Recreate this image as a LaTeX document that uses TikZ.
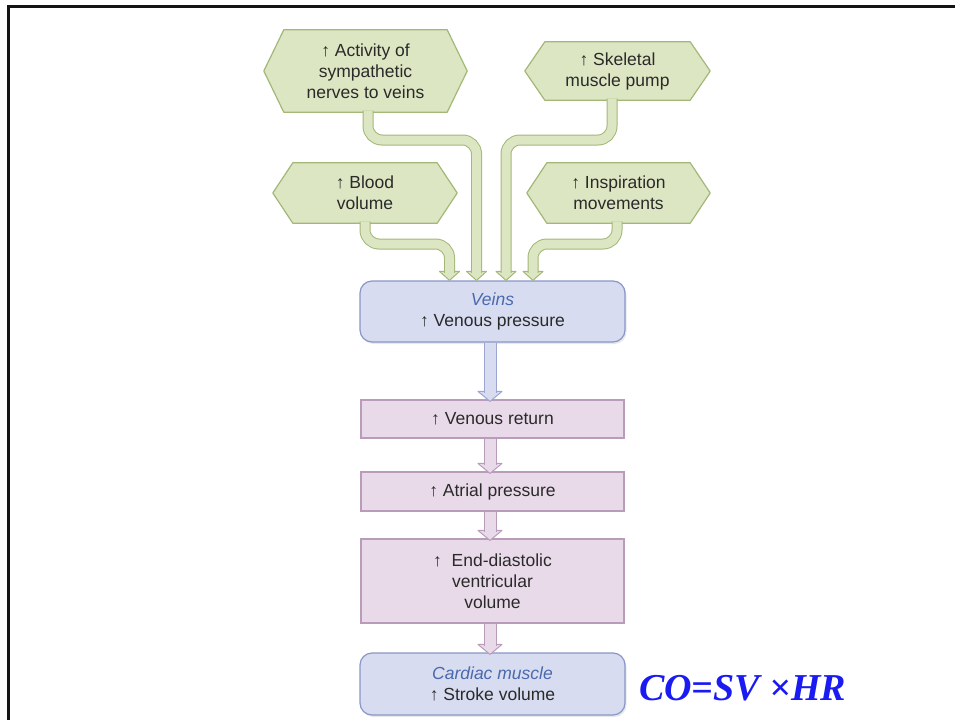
\documentclass[tikz,border=0pt]{standalone}
\usepackage{fontspec}
\setmainfont{Liberation Sans}
\newfontfamily\formulafont{Liberation Serif}
\usetikzlibrary{backgrounds,shadows}

\definecolor{leafFill}{HTML}{DDE6C3}
\definecolor{leafLine}{HTML}{A3B777}
\definecolor{veinFill}{HTML}{D7DCF0}
\definecolor{veinLine}{HTML}{8A96C8}
\definecolor{veinText}{HTML}{4A69AE}
\definecolor{roseFill}{HTML}{E9DAE9}
\definecolor{roseLine}{HTML}{B99BBA}
\definecolor{bodyText}{HTML}{2A2A2A}
\definecolor{formulaBlue}{HTML}{1A1AF2}

% hexagonal outline around a (transparent) rectangular label node
\newcommand\hexoutline[1]{%
  \draw[hexshape] (#1.north west) -- (#1.north east) -- ([xshift=20pt]#1.east)
    -- (#1.south east) -- (#1.south west) -- ([xshift=-20pt]#1.west) -- cycle;}

% green pipe: #1 start, #2 bend row, #3 tip on the target box
\newcommand\leafpipe[3]{%
  \draw[leafhead] ([xshift=-10pt,yshift=9pt]#3) -- ([xshift=10pt,yshift=9pt]#3) -- (#3) -- cycle;
  \draw[leafshaft] ([yshift=1.5pt]#1) |- (#3 |- #2) -- ([yshift=7.5pt]#3);}

% straight vertical flow arrow: #1 start, #2 tip, #3 fill, #4 line colour
\newcommand\flowarrow[4]{%
  \draw[fill=#3, draw=#4, line width=1pt, line join=round]
    ([xshift=-12pt,yshift=10pt]#2) -- ([xshift=12pt,yshift=10pt]#2) -- (#2) -- cycle;
  \draw[draw=#4, line width=1pt, double=#3, double distance=11pt]
    ([yshift=-0.6pt]#1) -- ([yshift=8.5pt]#2);}

\begin{document}
\begin{tikzpicture}[x=1pt,y=-1pt,
  every node/.style={font=\fontsize{17.5}{21}\selectfont, text=bodyText,
    align=center, inner sep=0pt},
  hexcore/.style={},
  hexshape/.style={fill=leafFill, draw=leafLine, line width=1.2pt, line join=round},
  leafhead/.style={fill=leafFill, draw=leafLine, line width=1pt, line join=round},
  leafshaft/.style={draw=leafLine, line width=1pt, double=leafFill,
    double distance=9pt, rounded corners=14pt},
  veinbox/.style={fill=veinFill, draw=veinLine, line width=1.2pt,
    rounded corners=12pt, minimum width=265pt,
    drop shadow={opacity=0.18, shadow xshift=1.5pt, shadow yshift=-2pt}},
  rosebox/.style={fill=roseFill, draw=roseLine, line width=1.2pt,
    minimum width=263pt},
  tissue/.style={text=veinText, font=\fontsize{17.5}{21}\selectfont\itshape}]

\useasboundingbox (0,0) rectangle (955,720);

% page frame
\draw[line width=2.6pt, black!92] (8.7,720) -- (8.7,6.3) -- (955,6.3);

% influencing factors
\node[hexcore, minimum width=163pt, minimum height=82pt] (act) at (365.5,71)
  {↑ Activity of\\sympathetic\\nerves to veins};
\node[hexcore, minimum width=145pt, minimum height=58pt] (skel) at (617.5,71)
  {↑ Skeletal\\muscle pump};
\node[hexcore, minimum width=144pt, minimum height=60pt] (blood) at (365,193)
  {↑ Blood\\volume};
\node[hexcore, minimum width=143pt, minimum height=60pt] (insp) at (618.5,193)
  {↑ Inspiration\\movements};

\begin{scope}[on background layer]
  \hexoutline{act}
  \hexoutline{skel}
  \hexoutline{blood}
  \hexoutline{insp}
\end{scope}

% chain of effects
\node[veinbox, minimum height=61pt] (veins) at (492.5,311.5)
  {{\color{veinText}\itshape Veins}\\↑ Venous pressure};
\node[rosebox, minimum height=38pt] (ret) at (492.5,419) {↑ Venous return};
\node[rosebox, minimum height=39pt] (atr) at (492.5,491.5) {↑ Atrial pressure};
\node[rosebox, minimum height=84pt] (edv) at (492.5,581)
  {↑~ End-diastolic\\ventricular\\volume};
\node[veinbox, minimum height=62pt] (card) at (492.5,684)
  {{\color{veinText}\itshape Cardiac muscle}\\↑ Stroke volume};

\node[font=\formulafont\bfseries\itshape\fontsize{38}{40}\selectfont,
  text=formulaBlue, anchor=base west] (co) at (639,700) {CO=SV ×HR};

% pipes into the veins
\coordinate (rowA) at (0,140);
\coordinate (rowB) at (0,244);
\coordinate (in1) at ([xshift=-43pt]veins.north);
\coordinate (in2) at ([xshift=-16pt]veins.north);
\coordinate (in3) at ([xshift=13.5pt]veins.north);
\coordinate (in4) at ([xshift=40.5pt]veins.north);
\coordinate (out1) at ([xshift=2.5pt]act.south);
\coordinate (out2) at ([xshift=-5.5pt]skel.south);
\coordinate (out3) at (blood.south);
\coordinate (out4) at ([xshift=-1.5pt]insp.south);

\leafpipe{out1}{rowA}{in2}
\leafpipe{out2}{rowA}{in3}
\leafpipe{out3}{rowB}{in1}
\leafpipe{out4}{rowB}{in4}

% arrows down the chain
\coordinate (v0) at ([xshift=-2.5pt]veins.south);
\coordinate (v1) at ([xshift=-2.5pt,yshift=-2pt]ret.north);
\coordinate (r1) at ([xshift=-2.5pt]ret.south);
\coordinate (r2) at ([xshift=-2.5pt,yshift=-2pt]atr.north);
\coordinate (a1) at ([xshift=-2.5pt]atr.south);
\coordinate (a2) at ([xshift=-2.5pt,yshift=-2pt]edv.north);
\coordinate (e1) at ([xshift=-2.5pt]edv.south);
\coordinate (e2) at ([xshift=-2.5pt,yshift=-2pt]card.north);

\flowarrow{v0}{v1}{veinFill}{veinLine!85}
\flowarrow{r1}{r2}{roseFill}{roseLine}
\flowarrow{a1}{a2}{roseFill}{roseLine}
\flowarrow{e1}{e2}{roseFill}{roseLine}

\end{tikzpicture}
\end{document}
